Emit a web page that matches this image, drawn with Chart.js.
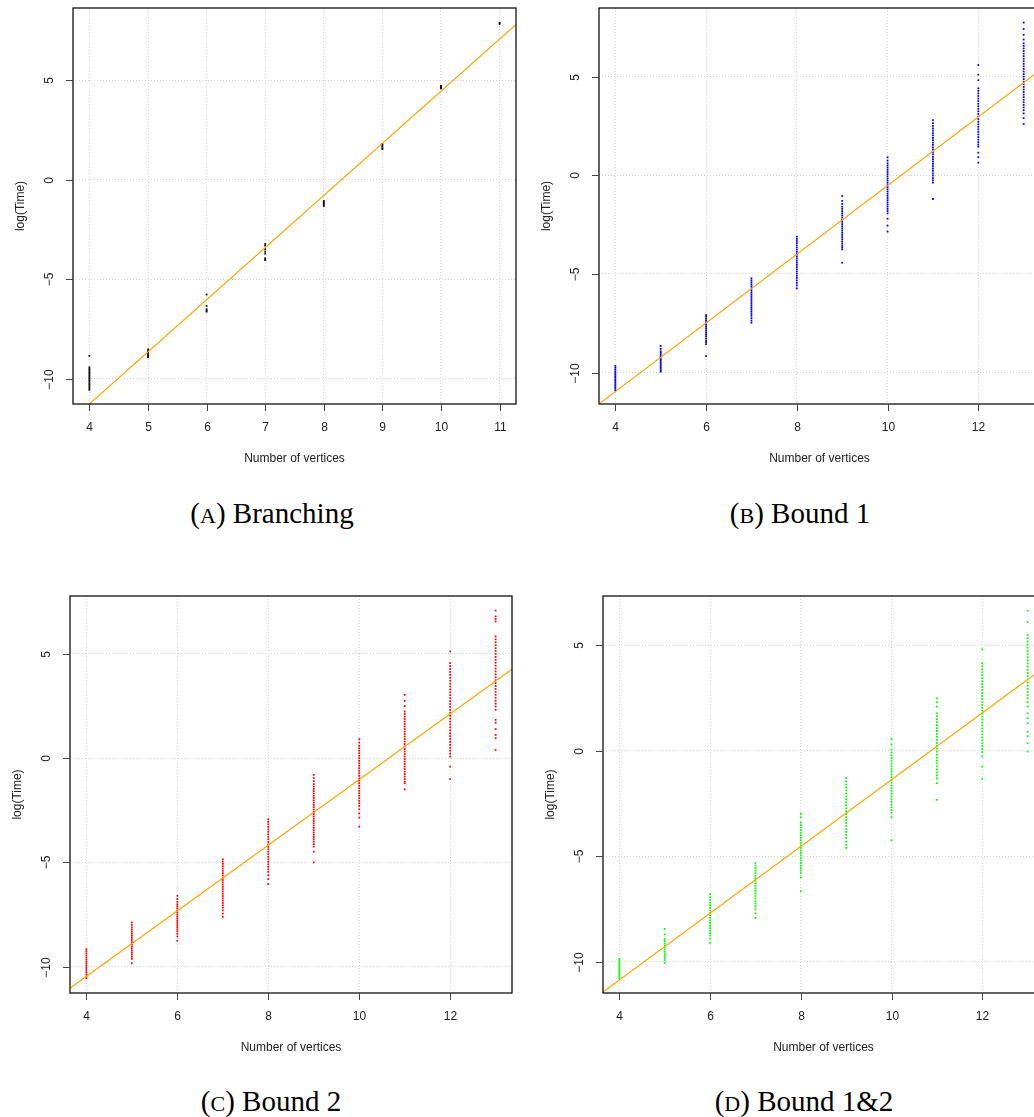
<!DOCTYPE html>
<html>
<head>
<meta charset="utf-8">
<script src="https://cdn.jsdelivr.net/npm/chart.js@4.4.0/dist/chart.umd.min.js"></script>
<style>
  html, body { margin: 0; padding: 0; background: #fff; }
  body { width: 1034px; height: 1117px; position: relative; overflow: hidden; }
  canvas { position: absolute; }
  .caption { position: absolute; width: 300px; text-align: center; white-space: nowrap;
             font-family: "Liberation Serif", "Times New Roman", serif; font-size: 29px; line-height: 30px; color: #000; }
  .sc { font-size: 22px; }
</style>
</head>
<body>
<canvas id="chartA" width="520" height="480" style="left:0px;top:0px"></canvas>
<canvas id="chartB" width="524" height="480" style="left:520px;top:0px"></canvas>
<canvas id="chartC" width="520" height="480" style="left:0px;top:580px"></canvas>
<canvas id="chartD" width="528" height="480" style="left:520px;top:580px"></canvas>

<div class="caption" style="left:122px;top:498px">(<span class="sc">A</span>) Branching</div>
<div class="caption" style="left:650px;top:498px">(<span class="sc">B</span>) Bound 1</div>
<div class="caption" style="left:121px;top:1086px">(<span class="sc">C</span>) Bound 2</div>
<div class="caption" style="left:654px;top:1086px">(<span class="sc">D</span>) Bound 1&amp;2</div>

<script>
// vertex counts on the x axis
var branchingVertices = [4, 5, 6, 7, 8, 9, 10, 11];
var boundVertices = [4, 5, 6, 7, 8, 9, 10, 11, 12, 13];

// log(Time) values
var branchingTimes = [
  [-8.84, -9.42, -9.5, -9.58, -9.66, -9.74, -9.82, -9.9, -9.98, -10.06, -10.14, -10.22, -10.3, -10.38, -10.46, -10.55],
  [-8.52, -8.6, -8.68, -8.76, -8.84, -8.91],
  [-5.76, -6.33, -6.5, -6.56, -6.62],
  [-3.22, -3.3, -3.48, -3.6, -3.7, -3.94, -4.0, -4.02],
  [-1.06, -1.12, -1.18, -1.24, -1.31],
  [1.54, 1.6, 1.68, 1.75, 1.81],
  [4.6, 4.66, 4.72],
  [7.84, 7.9]
];

var bound1Times = [
  [-9.66, -9.75, -9.84, -9.93, -10.02, -10.1, -10.18, -10.26, -10.34, -10.42, -10.5, -10.58, -10.66, -10.74, -10.82, -10.91],
  [-8.65, -8.8, -8.92, -9.0, -9.08, -9.16, -9.24, -9.32, -9.4, -9.48, -9.56, -9.64, -9.72, -9.8, -9.88, -9.95],
  [-7.08, -7.18, -7.28, -7.38, -7.48, -7.58, -7.68, -7.78, -7.88, -7.98, -8.08, -8.18, -8.28, -8.38, -8.46, -8.55, -9.16],
  [-5.22, -5.32, -5.42, -5.52, -5.62, -5.72, -5.82, -5.92, -6.02, -6.12, -6.22, -6.32, -6.42, -6.52, -6.62, -6.72, -6.82, -6.92, -7.02, -7.12, -7.24, -7.36, -7.47],
  [-3.11, -3.22, -3.33, -3.44, -3.55, -3.66, -3.77, -3.88, -3.99, -4.1, -4.21, -4.32, -4.43, -4.54, -4.65, -4.76, -4.87, -4.98, -5.09, -5.2, -5.32, -5.45, -5.58, -5.73],
  [-1.05, -1.3, -1.45, -1.59, -1.7, -1.81, -1.92, -2.03, -2.14, -2.25, -2.36, -2.47, -2.58, -2.69, -2.8, -2.91, -3.02, -3.13, -3.24, -3.35, -3.46, -3.57, -3.66, -3.75, -4.43],
  [0.91, 0.75, 0.61, 0.5, 0.39, 0.28, 0.17, 0.06, -0.05, -0.16, -0.27, -0.38, -0.49, -0.6, -0.71, -0.82, -0.93, -1.04, -1.15, -1.26, -1.37, -1.48, -1.59, -1.7, -1.81, -1.93, -2.2, -2.55, -2.85],
  [2.8, 2.65, 2.5, 2.38, 2.26, 2.14, 2.02, 1.9, 1.78, 1.66, 1.54, 1.42, 1.3, 1.18, 1.06, 0.94, 0.82, 0.7, 0.58, 0.46, 0.34, 0.22, 0.1, -0.02, -0.14, -0.26, -0.37, -1.2],
  [5.59, 5.1, 4.82, 4.41, 4.28, 4.15, 4.02, 3.89, 3.76, 3.63, 3.5, 3.37, 3.24, 3.11, 2.98, 2.85, 2.72, 2.59, 2.46, 2.33, 2.2, 2.07, 1.94, 1.81, 1.68, 1.56, 1.45, 1.15, 0.92, 0.64],
  [7.74, 7.42, 7.12, 6.88, 6.69, 6.56, 6.43, 6.3, 6.17, 6.04, 5.91, 5.78, 5.65, 5.52, 5.39, 5.26, 5.13, 5.0, 4.87, 4.74, 4.61, 4.48, 4.35, 4.22, 4.09, 3.96, 3.83, 3.7, 3.57, 3.44, 3.3, 3.14, 2.9, 2.6]
];

var bound2Times = [
  [-9.16, -9.26, -9.36, -9.46, -9.56, -9.66, -9.76, -9.86, -9.96, -10.06, -10.16, -10.26, -10.36, -10.46, -10.55],
  [-7.88, -8.0, -8.12, -8.22, -8.32, -8.42, -8.52, -8.62, -8.72, -8.82, -8.92, -9.02, -9.12, -9.22, -9.32, -9.42, -9.52, -9.62, -9.83],
  [-6.6, -6.75, -6.88, -7.0, -7.1, -7.2, -7.3, -7.4, -7.5, -7.6, -7.7, -7.8, -7.9, -8.0, -8.1, -8.2, -8.3, -8.42, -8.55, -8.75],
  [-4.85, -4.96, -5.07, -5.18, -5.29, -5.4, -5.51, -5.62, -5.73, -5.84, -5.95, -6.06, -6.17, -6.28, -6.39, -6.5, -6.61, -6.72, -6.83, -6.94, -7.05, -7.16, -7.3, -7.45, -7.6],
  [-2.93, -3.05, -3.17, -3.29, -3.41, -3.53, -3.65, -3.77, -3.89, -4.01, -4.13, -4.25, -4.37, -4.49, -4.61, -4.73, -4.85, -4.97, -5.09, -5.21, -5.33, -5.45, -5.6, -5.8, -6.03],
  [-0.8, -0.95, -1.1, -1.24, -1.36, -1.47, -1.58, -1.69, -1.8, -1.91, -2.02, -2.13, -2.24, -2.35, -2.46, -2.57, -2.68, -2.79, -2.9, -3.01, -3.12, -3.23, -3.34, -3.45, -3.56, -3.67, -3.78, -3.89, -4.0, -4.12, -4.24, -4.48, -5.0],
  [0.91, 0.75, 0.6, 0.48, 0.36, 0.24, 0.12, 0.0, -0.12, -0.24, -0.36, -0.48, -0.6, -0.72, -0.84, -0.96, -1.08, -1.2, -1.32, -1.44, -1.56, -1.68, -1.8, -1.92, -2.04, -2.16, -2.28, -2.45, -2.65, -2.85, -3.28],
  [3.04, 2.75, 2.5, 2.24, 2.12, 2.0, 1.88, 1.76, 1.64, 1.52, 1.4, 1.28, 1.16, 1.04, 0.92, 0.8, 0.68, 0.56, 0.44, 0.32, 0.2, 0.08, -0.04, -0.16, -0.28, -0.4, -0.52, -0.64, -0.76, -0.88, -1.0, -1.12, -1.2, -1.49],
  [5.12, 4.56, 4.42, 4.28, 4.14, 4.0, 3.86, 3.72, 3.58, 3.44, 3.3, 3.16, 3.02, 2.88, 2.74, 2.6, 2.46, 2.32, 2.18, 2.04, 1.9, 1.76, 1.62, 1.48, 1.34, 1.2, 1.06, 0.92, 0.78, 0.64, 0.5, 0.36, 0.22, 0.08, -0.4, -1.0],
  [7.08, 6.8, 6.68, 6.56, 5.84, 5.7, 5.56, 5.42, 5.28, 5.14, 5.0, 4.86, 4.72, 4.58, 4.44, 4.3, 4.16, 4.02, 3.88, 3.74, 3.6, 3.46, 3.32, 3.18, 3.04, 2.9, 2.76, 2.62, 2.48, 2.32, 1.84, 1.7, 1.4, 1.12, 0.96, 0.4]
];

var bound12Times = [
  [-9.86, -9.94, -10.02, -10.1, -10.18, -10.26, -10.34, -10.42, -10.5, -10.58, -10.66, -10.74, -10.8],
  [-8.44, -8.7, -8.92, -9.02, -9.12, -9.22, -9.32, -9.42, -9.52, -9.62, -9.72, -9.82, -9.92, -10.05],
  [-6.81, -6.95, -7.08, -7.2, -7.32, -7.44, -7.56, -7.68, -7.8, -7.92, -8.04, -8.16, -8.28, -8.4, -8.52, -8.64, -8.76, -8.9, -9.1],
  [-5.32, -5.44, -5.56, -5.68, -5.8, -5.92, -6.04, -6.16, -6.28, -6.4, -6.52, -6.64, -6.76, -6.88, -7.0, -7.12, -7.24, -7.36, -7.5, -7.7, -7.92],
  [-2.99, -3.15, -3.4, -3.52, -3.64, -3.76, -3.88, -4.0, -4.12, -4.24, -4.36, -4.48, -4.6, -4.72, -4.84, -4.96, -5.08, -5.2, -5.32, -5.44, -5.56, -5.68, -5.8, -6.0, -6.66],
  [-1.29, -1.45, -1.6, -1.74, -1.88, -2.02, -2.16, -2.3, -2.44, -2.58, -2.72, -2.86, -3.0, -3.14, -3.28, -3.42, -3.56, -3.7, -3.84, -3.98, -4.12, -4.3, -4.45, -4.6],
  [0.55, 0.3, 0.05, -0.08, -0.21, -0.34, -0.47, -0.6, -0.73, -0.86, -0.99, -1.12, -1.25, -1.38, -1.51, -1.64, -1.77, -1.9, -2.03, -2.16, -2.29, -2.42, -2.55, -2.68, -2.81, -2.94, -3.14, -4.24],
  [2.49, 2.3, 2.1, 1.78, 1.64, 1.5, 1.36, 1.22, 1.08, 0.94, 0.8, 0.66, 0.52, 0.38, 0.24, 0.1, -0.04, -0.18, -0.32, -0.46, -0.6, -0.74, -0.88, -1.02, -1.16, -1.3, -1.53, -2.32],
  [4.81, 4.15, 4.0, 3.86, 3.72, 3.58, 3.44, 3.3, 3.16, 3.02, 2.88, 2.74, 2.6, 2.46, 2.32, 2.18, 2.04, 1.9, 1.76, 1.62, 1.48, 1.34, 1.2, 1.06, 0.92, 0.78, 0.64, 0.5, 0.36, 0.22, 0.08, -0.06, -0.27, -0.74, -1.32],
  [6.64, 6.1, 5.49, 5.34, 5.19, 5.04, 4.89, 4.74, 4.59, 4.44, 4.29, 4.14, 3.99, 3.84, 3.69, 3.54, 3.39, 3.24, 3.09, 2.94, 2.79, 2.64, 2.49, 2.3, 2.1, 1.78, 1.55, 1.31, 0.91, 0.7, 0.36, -0.03]
];

// fitted regression lines (orange), y = intercept + slope * x
var fitIntercepts = [-21.74, -17.92, -16.76, -17.20];
var fitSlopes = [2.62, 1.74, 1.574, 1.583];

// axis limits and tick steps
var xLimits = [[3.72, 11.28], [3.64, 13.36], [3.64, 13.36], [3.64, 13.36]];
var yLimits = [[-11.26, 8.64], [-11.59, 8.48], [-11.26, 7.78], [-11.48, 7.34]];
var xSteps = [1, 2, 2, 2];

// draws the R-style box, tick marks, tick labels and axis titles
var rAxesPlugin = {
  id: 'rAxes',
  afterDraw: function(chart) {
    var ctx = chart.ctx;
    var a = chart.chartArea;
    var xs = chart.scales.x;
    var ys = chart.scales.y;
    ctx.save();
    ctx.strokeStyle = '#111';
    ctx.lineWidth = 1.3;
    ctx.strokeRect(a.left, a.top, a.right - a.left, a.bottom - a.top);

    ctx.strokeStyle = '#444';
    ctx.lineWidth = 1;
    ctx.fillStyle = '#222';
    ctx.font = '12px "Liberation Sans", Arial, sans-serif';
    ctx.textAlign = 'center';
    ctx.textBaseline = 'middle';
    xs.ticks.forEach(function(t) {
      var px = Math.round(xs.getPixelForValue(t.value)) + 0.5;
      ctx.beginPath();
      ctx.moveTo(px, a.bottom);
      ctx.lineTo(px, a.bottom + 7);
      ctx.stroke();
      ctx.fillText(String(t.value), px, a.bottom + 24);
    });
    ys.ticks.forEach(function(t) {
      var py = Math.round(ys.getPixelForValue(t.value)) + 0.5;
      ctx.beginPath();
      ctx.moveTo(a.left - 7, py);
      ctx.lineTo(a.left, py);
      ctx.stroke();
      ctx.save();
      ctx.translate(a.left - 23, py);
      ctx.rotate(-Math.PI / 2);
      ctx.fillText(String(t.value).replace('-', '\u2212'), 0, 0);
      ctx.restore();
    });

    ctx.fillText('Number of vertices', (a.left + a.right) / 2, a.bottom + 55);
    ctx.save();
    ctx.translate(a.left - 52, (a.top + a.bottom) / 2);
    ctx.rotate(-Math.PI / 2);
    ctx.fillText('log(Time)', 0, 0);
    ctx.restore();
    ctx.restore();
  }
};

function makePanel(id, idx, vertices, times, color, box) {
  var points = [];
  for (var i = 0; i < vertices.length; i++) {
    for (var j = 0; j < times[i].length; j++) {
      points.push({ x: vertices[i], y: times[i][j] });
    }
  }
  var x0 = xLimits[idx][0], x1 = xLimits[idx][1];
  var line = [
    { x: x0, y: fitIntercepts[idx] + fitSlopes[idx] * x0 },
    { x: x1, y: fitIntercepts[idx] + fitSlopes[idx] * x1 }
  ];
  var gridOpts = { color: '#d6d6d6', lineWidth: 1, drawTicks: false };
  var borderOpts = { display: false, dash: [1, 2] };

  return new Chart(document.getElementById(id), {
    type: 'scatter',
    data: {
      datasets: [{
        data: line,
        showLine: true,
        borderColor: '#ffa500',
        borderWidth: 1.2,
        pointRadius: 0,
        order: 0
      }, {
        data: points,
        backgroundColor: color,
        borderWidth: 0,
        pointStyle: 'rect',
        pointRadius: 1.25,
        order: 1
      }]
    },
    options: {
      responsive: false,
      animation: false,
      devicePixelRatio: 1,
      layout: { padding: { top: box.top, right: box.right, left: 0, bottom: 0 } },
      plugins: { legend: { display: false }, tooltip: { enabled: false } },
      scales: {
        x: {
          type: 'linear',
          min: x0,
          max: x1,
          ticks: { display: false, stepSize: xSteps[idx], includeBounds: false },
          grid: gridOpts,
          border: borderOpts,
          afterFit: function(s) { s.height = box.bottom; }
        },
        y: {
          type: 'linear',
          min: yLimits[idx][0],
          max: yLimits[idx][1],
          ticks: { display: false, stepSize: 5, includeBounds: false },
          grid: gridOpts,
          border: borderOpts,
          afterFit: function(s) { s.width = box.left; }
        }
      }
    },
    plugins: [rAxesPlugin]
  });
}

makePanel('chartA', 0, branchingVertices, branchingTimes, '#000000', { left: 73, top: 8, right: 4, bottom: 76 });
makePanel('chartB', 1, boundVertices, bound1Times, '#0000ff', { left: 79, top: 8, right: 1, bottom: 76 });
makePanel('chartC', 2, boundVertices, bound2Times, '#ff0000', { left: 70, top: 16, right: 8, bottom: 67 });
makePanel('chartD', 3, boundVertices, bound12Times, '#00ff00', { left: 83, top: 16, right: 1, bottom: 67 });
</script>
</body>
</html>
